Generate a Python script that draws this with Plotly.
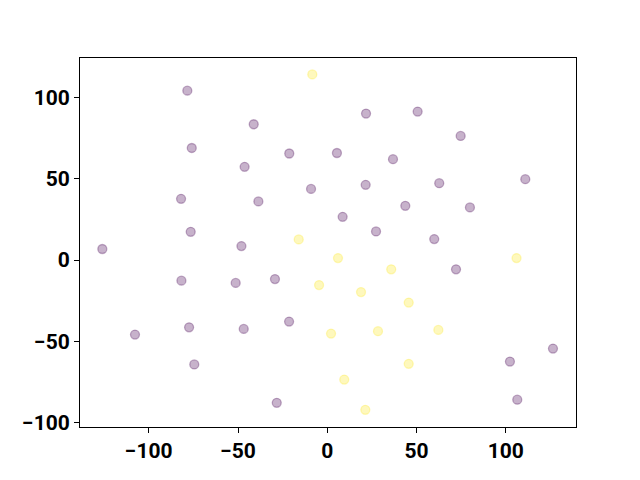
import plotly.graph_objects as go

# Class 0 (purple) points
x_class0 = [-78.4, -41.2, -75.9, -21.3, -46.3, -9.1, -81.9, -38.6, -76.5, -48.1,
            21.7, 50.6, 74.7, 5.4, 36.8, 21.5, 62.7, 110.9, 43.7, 79.9, 8.6, 27.3, 59.9,
            -126.0, -81.7, -51.3, -29.3, -21.4, -107.7, -77.4, -46.8, -74.5, -28.3,
            72.1, 126.4, 102.3, 106.4]
y_class0 = [104.3, 83.6, 69.0, 65.6, 57.4, 43.8, 37.7, 36.1, 17.4, 8.6,
            90.2, 91.4, 76.4, 65.9, 62.1, 46.3, 47.3, 49.8, 33.4, 32.4, 26.6, 17.6, 12.9,
            6.8, -12.7, -14.1, -11.7, -37.9, -45.9, -41.4, -42.4, -64.3, -87.9,
            -5.7, -54.5, -62.5, -86.0]

# Class 1 (yellow) points
x_class1 = [-8.4, -16.0, -4.6, 2.1, 6.0, 106.0, 35.8, 18.9, 45.6, 28.4, 62.2, 45.6, 9.5, 21.3]
y_class1 = [114.3, 12.7, -15.4, -45.3, 1.2, 1.2, -5.7, -19.7, -26.2, -43.8, -43.0, -63.9, -73.6, -92.2]

x_ticks = [-100, -50, 0, 50, 100]
y_ticks = [-100, -50, 0, 50, 100]

purple = "rgba(68,1,84,0.3)"
yellow = "rgba(253,231,37,0.3)"

fig = go.Figure()
for xs, ys, c in [(x_class0, y_class0, purple), (x_class1, y_class1, yellow)]:
    fig.add_trace(go.Scatter(
        x=xs, y=ys, mode="markers",
        marker=dict(size=9, color=c, line=dict(color=c, width=1.3)),
        showlegend=False, hoverinfo="skip"))

axis_common = dict(
    showgrid=False, zeroline=False, showline=True, linecolor="black", linewidth=1,
    mirror=True, ticks="outside", ticklen=5, tickwidth=1, tickcolor="black",
    tickfont=dict(family="Roboto", size=21, color="black", weight="bold"),
)
fig.update_xaxes(range=[-138.5, 139.3], tickvals=x_ticks, **axis_common)
fig.update_yaxes(range=[-102.8, 124.4], tickvals=y_ticks, **axis_common)
fig.update_layout(
    width=640, height=480, autosize=False,
    margin=dict(l=72, r=72, t=50, b=61),
    paper_bgcolor="white", plot_bgcolor="white",
)
fig.write_html("out.html")
